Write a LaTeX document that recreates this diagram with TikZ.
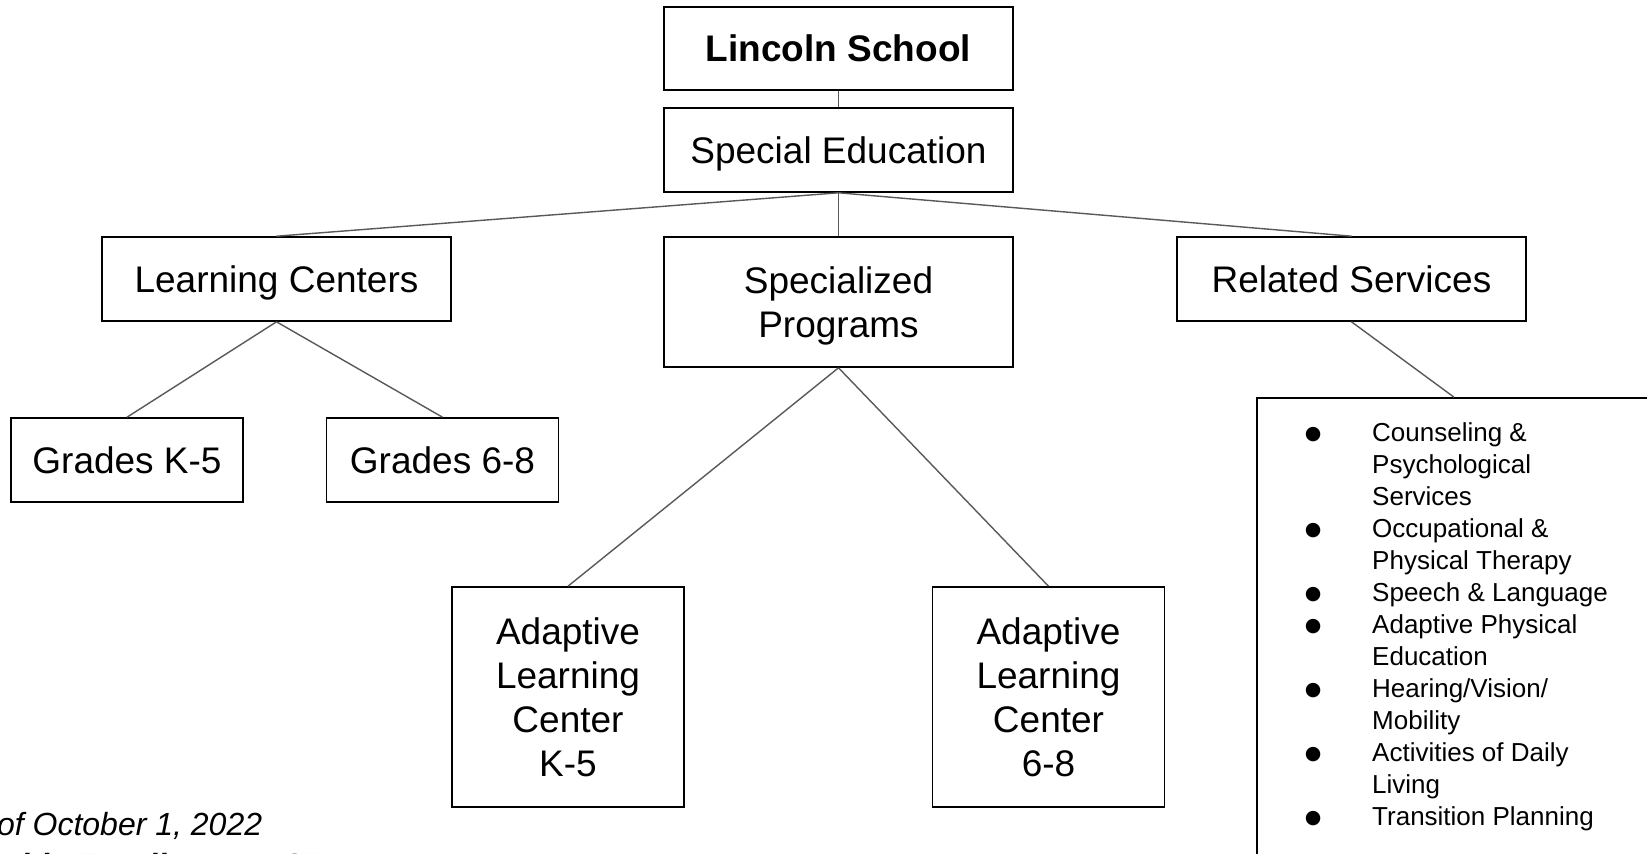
\documentclass[tikz,border=0pt]{standalone}
\usepackage{fontspec}
\setmainfont{Liberation Sans}
\newfontfamily\symfont{DejaVu Sans}
\definecolor{linkgray}{HTML}{595959}
% bullet used in the services list
\newcommand{\svcbullet}{\makebox[0pt]{\raisebox{2pt}{\symfont\fontsize{19}{19}\selectfont ●}}}
\begin{document}
\begin{tikzpicture}[x=1pt,y=-1pt,
  box/.style={draw=black, line width=1.6pt, inner sep=0pt, align=center,
              font=\fontsize{37}{44}\selectfont},
  oneline/.style={text height=26.5pt, text depth=0pt},
  widebox/.style={box, minimum width=349pt},
  narrowbox/.style={box, minimum width=232pt},
  link/.style={draw=linkgray, line width=1.4pt}]
\useasboundingbox (0,0) rectangle (1647,854);
\fill[white] (0,0) rectangle (1647,854);

% org chart boxes
\node[widebox, oneline, minimum height=83pt] (lincoln) at (838.5,48.5) {\bfseries Lincoln School};
\node[widebox, oneline, minimum height=84pt] (sped) at (838.5,150) {Special Education};
\node[widebox, oneline, minimum height=84pt] (lc) at (276.5,279) {Learning Centers};
\node[widebox, minimum height=130pt] (sp) at (838.5,302) {\rule{0pt}{34pt}Specialized\\Programs};
\node[widebox, oneline, minimum height=84pt] (rs) at (1351.5,279) {Related Services};
\node[narrowbox, oneline, minimum height=84pt] (gk5) at (127,460) {Grades K-5};
\node[narrowbox, oneline, minimum height=84pt] (g68) at (442.5,460) {Grades 6-8};
\node[narrowbox, minimum height=220pt] (alc5) at (568,697) {Adaptive\\Learning\\Center\\K-5};
\node[narrowbox, minimum height=220pt] (alc68) at (1048.5,697) {Adaptive\\Learning\\Center\\6-8};
\node[box, minimum width=394pt, minimum height=482pt] (svc) at (1454,639) {};

% list of related services
\node[anchor=base west, inner sep=0pt] (svclist) at (1313,441.5) {%
  \begin{minipage}[t]{330pt}
  \fontsize{26}{32}\selectfont
  \begin{list}{\svcbullet}{\setlength{\leftmargin}{59pt}\setlength{\labelwidth}{0pt}%
      \setlength{\labelsep}{59pt}\setlength{\itemsep}{0pt}\setlength{\parsep}{0pt}%
      \setlength{\topsep}{0pt}\setlength{\partopsep}{0pt}\setlength{\itemindent}{0pt}}
  \item Counseling \&\\ Psychological\\ Services
  \item Occupational \&\\ Physical Therapy
  \item Speech \& Language
  \item Adaptive Physical\\ Education
  \item Hearing/Vision/\\ Mobility
  \item Activities of Daily\\ Living
  \item Transition Planning
  \end{list}
  \end{minipage}};

% connectors
\draw[link] (lincoln.south) -- (sped.north);
\draw[link] (sped.south) -- (lc.north);
\draw[link] (sped.south) -- (sp.north);
\draw[link] (sped.south) -- (rs.north);
\draw[link] (lc.south) -- (gk5.north);
\draw[link] (lc.south) -- (g68.north);
\draw[link] (sp.south) -- (alc5.north);
\draw[link] (sp.south) -- (alc68.north);
\draw[link] (rs.south) -- (svc.north);

% footnote
\node[anchor=base, inner sep=0pt, font=\itshape\fontsize{32}{34}\selectfont] (asof) at (106.5,835) {As of October 1, 2022};
\node[anchor=base, inner sep=0pt, font=\bfseries\fontsize{32}{34}\selectfont] (enroll) at (106.5,876) {Schoolwide Enrollment: 425};
\end{tikzpicture}
\end{document}
